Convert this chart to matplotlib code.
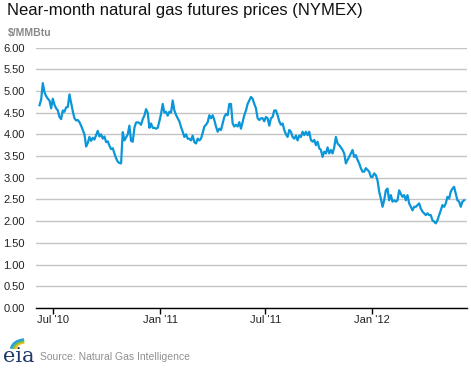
import matplotlib
matplotlib.use("Agg")
import matplotlib.pyplot as plt
from matplotlib.patches import Arc
import pandas as pd

title = "Near-month natural gas futures prices (NYMEX)"
unit_label = "$/MMBtu"
source = "Source: Natural Gas Intelligence"

start_date = "2010-06-07"
end_date = "2012-06-07"

prices_2010 = [
    4.67, 4.80, 5.18, 4.97, 4.88, 4.82, 4.78, 4.60, 4.82, 4.68,
    4.60, 4.55, 4.40, 4.35, 4.55, 4.52, 4.62, 4.63, 4.92, 4.72,
    4.53, 4.37, 4.32, 4.33, 4.28, 4.20, 4.10, 4.00, 3.72, 3.80,
    3.94, 3.85, 3.92, 3.88, 3.98, 4.08, 3.95, 4.00, 3.90, 3.95,
    3.82, 3.84, 3.74, 3.66, 3.68, 3.56, 3.45, 3.37, 3.34, 3.33,
    4.05, 3.86, 3.93, 4.00, 4.20, 3.85, 3.83, 4.15, 4.27, 4.28,
    4.26, 4.22, 4.35, 4.43, 4.58, 4.50, 4.15,
]
prices_2011 = [
    4.25, 4.15, 4.15, 4.13, 4.15, 4.30, 4.47, 4.70, 4.50, 4.52,
    4.43, 4.52, 4.50, 4.78, 4.55, 4.45, 4.37, 4.30, 4.17, 4.06,
    3.94, 4.00, 3.90, 3.90, 3.86, 3.97, 3.82, 3.79, 3.90, 3.86,
    3.90, 4.03, 4.18, 4.22, 4.28, 4.44, 4.37, 4.44, 4.33, 4.18,
    4.06, 4.13, 4.10, 4.25, 4.40, 4.47, 4.44, 4.70, 4.70, 4.25,
    4.18, 4.22, 4.18, 4.28, 4.13, 4.28, 4.44, 4.55, 4.70, 4.78,
    4.86, 4.82, 4.70, 4.60, 4.37, 4.33, 4.37, 4.37, 4.30, 4.40,
    4.37, 4.20, 4.37, 4.40, 4.55, 4.55, 4.44, 4.30, 4.22, 4.25,
    4.10, 4.00, 3.94, 4.10, 4.06, 3.94, 3.90, 3.97, 3.86, 3.97,
]
prices_2012 = [
    3.94, 4.06, 3.98, 4.06, 3.98, 4.06, 3.87, 3.83, 3.87, 3.75,
    3.83, 3.68, 3.64, 3.48, 3.60, 3.56, 3.70, 3.56, 3.64, 3.56,
    3.70, 3.94, 3.79, 3.75, 3.70, 3.64, 3.56, 3.33, 3.41, 3.48,
    3.56, 3.64, 3.48, 3.52, 3.41, 3.33, 3.22, 3.14, 3.14, 3.22,
    3.18, 3.14, 3.02, 3.02, 3.10, 3.06, 2.94, 2.68, 2.52, 2.33,
    2.48, 2.71, 2.75, 2.48, 2.60, 2.45, 2.48, 2.45, 2.48, 2.71,
    2.63, 2.56, 2.60, 2.48, 2.60, 2.41, 2.33, 2.25, 2.33, 2.33,
    2.37, 2.41, 2.29, 2.22, 2.18, 2.14, 2.18, 2.14, 2.14, 2.02,
    1.99, 1.95, 2.02, 2.14, 2.25, 2.37, 2.33, 2.41, 2.56, 2.52,
    2.68, 2.75, 2.79, 2.63, 2.48, 2.45, 2.33, 2.45, 2.48,
]
prices = prices_2010 + prices_2011 + prices_2012
dates = pd.date_range(start_date, end_date, periods=len(prices))

xtick_dates = ["2010-07-01", "2011-01-01", "2011-07-01", "2012-01-01"]
xtick_labels = ["Jul '10", "Jan '11", "Jul '11", "Jan '12"]
yticks = [0, 0.5, 1, 1.5, 2, 2.5, 3, 3.5, 4, 4.5, 5, 5.5, 6]

plt.rcParams['font.family'] = ['Liberation Sans', 'DejaVu Sans']

W, H = 471, 369
fig = plt.figure(figsize=(W / 100, H / 100), dpi=100)
ax = fig.add_axes([36 / W, 1 - 308 / H, (467 - 36) / W, (308 - 47.5) / H])

ax.plot(dates, prices, color="#0a96d8", lw=1.6, solid_joinstyle="round", zorder=3)

ax.set_ylim(0, 6)
ax.set_xlim(pd.Timestamp("2010-06-01"), pd.Timestamp("2012-06-12"))
ax.set_yticks(yticks)
ax.set_yticklabels([f"{v:.2f}" for v in yticks])
ax.yaxis.grid(True, color="#c4c4c4", lw=1.0)
ax.set_axisbelow(True)
ax.set_xticks(pd.to_datetime(xtick_dates))
ax.set_xticklabels(xtick_labels)

for s in ["left", "right", "top"]:
    ax.spines[s].set_visible(False)
ax.spines["bottom"].set_color("black")
ax.spines["bottom"].set_linewidth(1.0)
ax.tick_params(axis="y", length=0, pad=8, labelsize=8, labelcolor="#222222")
ax.tick_params(axis="x", length=4, width=1, direction="out", pad=1, labelsize=8,
               labelcolor="#222222")

fig.text(7 / W, 1 - 11 / H, title, fontsize=12, color="#111111", va="center", ha="left")
fig.text(8 / W, 1 - 33 / H, unit_label, fontsize=7.5, color="#888888", weight="bold",
         va="center", ha="left")
fig.text(40 / W, 1 - 357 / H, source, fontsize=7.5, color="#909090", va="center", ha="left")

# EIA logo approximation
fig.text(3 / W, 1 - 357 / H, "eia", fontsize=15, color="#1f3a6b", family="DejaVu Serif",
         va="center", ha="left")
lax = fig.add_axes([3 / W, 1 - 350 / H, 28 / W, 14 / H])
lax.set_xlim(0, 28)
lax.set_ylim(0, 14)
lax.axis("off")
for r, c in [(10, "#f2c01e"), (12, "#7bbf3a"), (14, "#2a9fd8")]:
    lax.add_patch(Arc((22, 0), 2 * r, 2 * r * 0.75, theta1=95, theta2=175, color=c, lw=1.8))

fig.savefig("out.png", dpi=100, facecolor="white")
